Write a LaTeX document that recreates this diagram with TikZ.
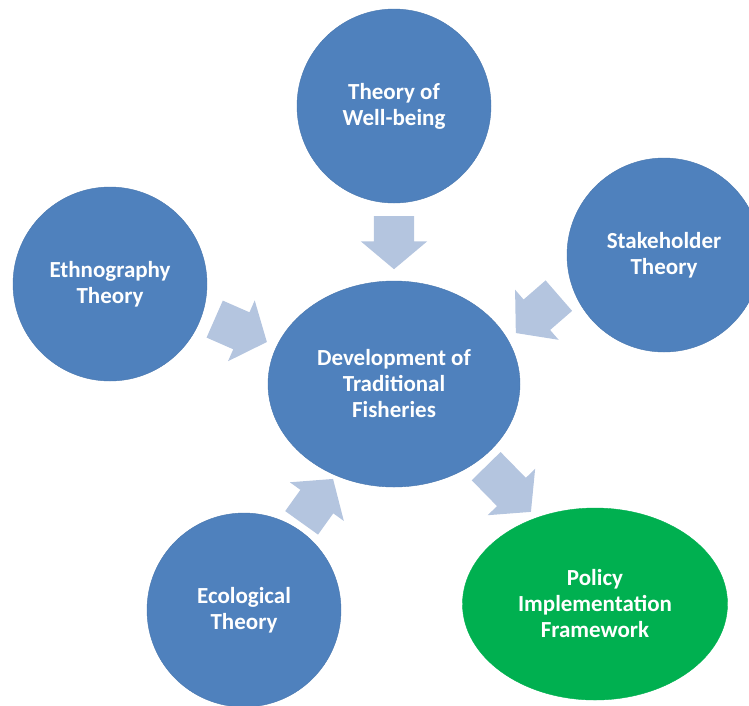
\documentclass[tikz,border=0pt]{standalone}
\usepackage{fontspec}
\setmainfont{Carlito}
\usetikzlibrary{shapes.geometric,shapes.arrows}
\definecolor{theoryblue}{RGB}{79,129,189}
\definecolor{arrowblue}{RGB}{180,197,223}
\definecolor{policygreen}{RGB}{0,176,80}

\begin{document}
\begin{tikzpicture}[x=1pt,y=1pt]
	\tikzstyle{main}=[circle, minimum size=194pt, inner sep=0pt, fill=theoryblue, draw=theoryblue!92!black, text=white, align=center, font=\fontsize{23}{26}\selectfont\bfseries]
	\tikzstyle{oval}=[main, ellipse]
	\tikzstyle{flow}=[single arrow, anchor=tail, fill=arrowblue, inner xsep=0pt, inner ysep=20pt, single arrow head extend=13pt, single arrow tip angle=100]
	\useasboundingbox (0,0) rectangle (749,-705);
	% theories round the centre
	\node[oval, minimum width=252pt, minimum height=206pt] (dev) at (394,-384) {Development of\\Traditional\\Fisheries};
	\node[main] (wb) at (394,-106) {Theory of\\Well-being};
	\node[main] (eth) at (110,-284) {Ethnography\\Theory};
	\node[main] (stk) at (664,-255) {Stakeholder\\Theory};
	\node[main] (eco) at (244,-610) {Ecological\\Theory};
	\node[oval, minimum width=265pt, minimum height=192pt, fill=policygreen, draw=policygreen] (pol) at (595,-604) {Policy\\Implementation\\Framework};
	% block arrows, placed by their tails
	\node[flow, minimum height=53pt, rotate=-90] (wbdev) at (394,-216) {};
	\node[flow, minimum height=57pt, rotate=-23.7] (ethdev) at (214.5,-319) {};
	\node[flow, minimum height=57pt, rotate=221] (stkdev) at (559,-295.5) {};
	\node[flow, minimum height=54pt, rotate=54.4] (ecodev) at (301.5,-523) {};
	\node[flow, minimum height=64pt, rotate=-45.6] (devpol) at (486,-466) {};
\end{tikzpicture}
\end{document}
